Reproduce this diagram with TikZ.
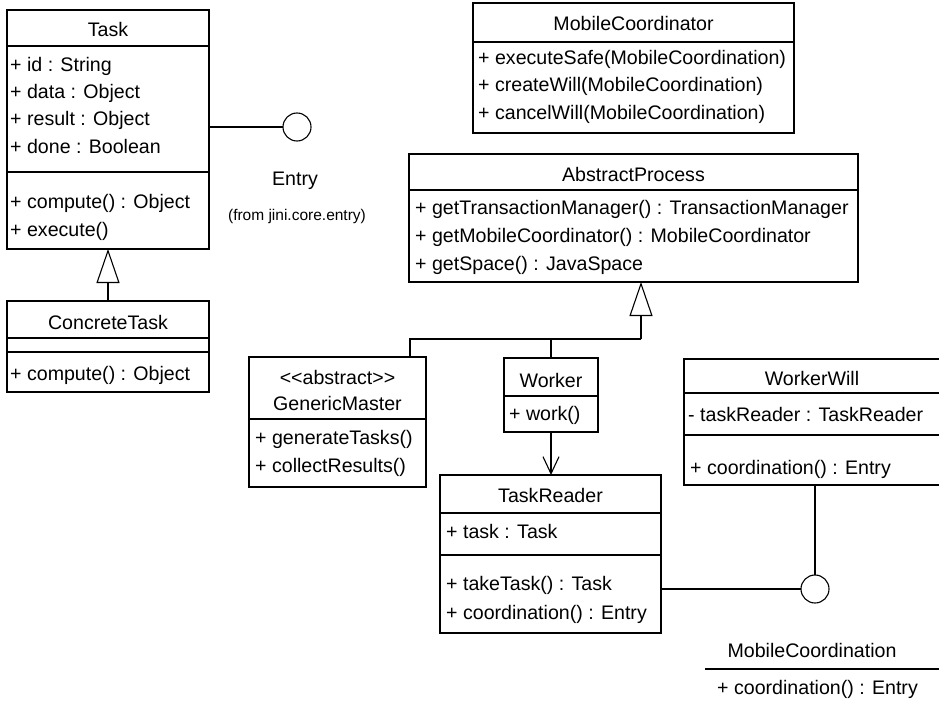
\documentclass[tikz,border=0pt]{standalone}
\usepackage{fontspec}
\setmainfont{Liberation Sans}
\usetikzlibrary{arrows.meta}
\begin{document}
\begin{tikzpicture}[x=1pt,y=-1pt,
  box/.style={draw, line width=1.1pt, inner sep=0pt, outer sep=0pt, rectangle},
  lbl/.style={anchor=base west, inner sep=0pt, font=\fontsize{19.6}{24}\selectfont},
  ttl/.style={anchor=base, inner sep=0pt, font=\fontsize{19.6}{24}\selectfont},
  small/.style={anchor=base, inner sep=0pt, font=\fontsize{15.5}{18}\selectfont},
  sepline/.style={line width=1.1pt},
  conn/.style={line width=1.1pt},
  gen/.style={conn, -{Triangle[open, length=34pt, width=23pt]}},
  nav/.style={conn, -{Straight Barb[length=17pt, width=16pt]}},
  iface/.style={draw, circle, line width=1.1pt, minimum size=28pt, inner sep=0pt, outer sep=0pt}
]
\clip (0,0) rectangle (939,703);
\fill[white] (0,0) rectangle (939,703);

% ---- Task ----
\node[box, minimum width=202pt, minimum height=239pt] (task) at (108,129.5) {};
\draw[sepline] (task.west |- 0,46) -- (task.east |- 0,46);
\draw[sepline] (task.west |- 0,172) -- (task.east |- 0,172);
\node[ttl] (tasktitle) at (108,37) {Task};
\node[lbl] (taskid) at (10,72) {+ id : String};
\node[lbl] (taskdata) at (10,99) {+ data : Object};
\node[lbl] (taskresult) at (10,126) {+ result : Object};
\node[lbl] (taskdone) at (10,154) {+ done : Boolean};
\node[lbl] (taskcompute) at (10,209) {+ compute() : Object};
\node[lbl] (taskexecute) at (10,237) {+ execute()};

% ---- ConcreteTask ----
\node[box, minimum width=202pt, minimum height=91pt] (ctask) at (108,346.5) {};
\draw[sepline] (ctask.west |- 0,338) -- (ctask.east |- 0,338);
\draw[sepline] (ctask.west |- 0,352) -- (ctask.east |- 0,352);
\node[ttl] (ctasktitle) at (108,329) {ConcreteTask};
\node[lbl] (ctaskcompute) at (10,380) {+ compute() : Object};

% ---- Entry interface ----
\node[iface] (entry) at (297,127) {};
\node[ttl] (entrytitle) at (295,186) {Entry};
\node[small] (entryfrom) at (297,221) {(from jini.core.entry)};

% ---- MobileCoordinator ----
\node[box, minimum width=321pt, minimum height=130pt] (mcoord) at (633.5,68) {};
\draw[sepline] (mcoord.west |- 0,42) -- (mcoord.east |- 0,42);
\node[ttl] (mcoordtitle) at (633.5,31) {MobileCoordinator};
\node[lbl] (mcoordm1) at (478,65) {+ executeSafe(MobileCoordination)};
\node[lbl] (mcoordm2) at (478,92) {+ createWill(MobileCoordination)};
\node[lbl] (mcoordm3) at (478,120) {+ cancelWill(MobileCoordination)};

% ---- AbstractProcess ----
\node[box, minimum width=449pt, minimum height=128pt] (aproc) at (633.5,218) {};
\draw[sepline] (aproc.west |- 0,190) -- (aproc.east |- 0,190);
\node[ttl] (aproctitle) at (633.5,182) {AbstractProcess};
\node[lbl] (aprocm1) at (415,215) {+ getTransactionManager() : TransactionManager};
\node[lbl] (aprocm2) at (415,243) {+ getMobileCoordinator() : MobileCoordinator};
\node[lbl] (aprocm3) at (415,270) {+ getSpace() : JavaSpace};

% ---- GenericMaster ----
\node[box, minimum width=177pt, minimum height=130pt] (gmaster) at (337.5,422) {};
\draw[sepline] (gmaster.west |- 0,419) -- (gmaster.east |- 0,419);
\node[ttl] (gmasterst) at (337.5,384) {\mbox{<}\mbox{<}abstract\mbox{>}\mbox{>}};
\node[ttl] (gmastertitle) at (337.5,410) {GenericMaster};
\node[lbl] (gmasterm1) at (255,444) {+ generateTasks()};
\node[lbl] (gmasterm2) at (255,472) {+ collectResults()};

% ---- Worker ----
\node[box, minimum width=94pt, minimum height=74pt] (worker) at (551,395) {};
\draw[sepline] (worker.west |- 0,396) -- (worker.east |- 0,396);
\node[ttl] (workertitle) at (551,387) {Worker};
\node[lbl] (workerm1) at (509,420) {+ work()};

% ---- TaskReader ----
\node[box, minimum width=221pt, minimum height=158pt] (treader) at (550.5,554) {};
\draw[sepline] (treader.west |- 0,513) -- (treader.east |- 0,513);
\draw[sepline] (treader.west |- 0,555) -- (treader.east |- 0,555);
\node[ttl] (treadertitle) at (550.5,502) {TaskReader};
\node[lbl] (treadera1) at (446,538) {+ task : Task};
\node[lbl] (treaderm1) at (446,590) {+ takeTask() : Task};
\node[lbl] (treaderm2) at (446,619) {+ coordination() : Entry};

% ---- WorkerWill ----
\node[box, minimum width=257pt, minimum height=126pt] (wwill) at (812.5,422) {};
\draw[sepline] (wwill.west |- 0,393) -- (wwill.east |- 0,393);
\draw[sepline] (wwill.west |- 0,435) -- (wwill.east |- 0,435);
\node[ttl] (wwilltitle) at (812,385) {WorkerWill};
\node[lbl] (wwilla1) at (688,421) {- taskReader : TaskReader};
\node[lbl] (wwillm1) at (690,474) {+ coordination() : Entry};

% ---- MobileCoordination interface ----
\node[iface] (mcoordn) at (815,589) {};
\node[ttl] (mcoordntitle) at (812,657) {MobileCoordination};
\draw[sepline] (705,669) -- (945,669);
\node[lbl] (mcoordnm1) at (717,694) {+ coordination() : Entry};

% ---- connectors ----
\draw[conn] (entry.west) -- (entry.west -| task.east);
\draw[gen] (ctask.north) -- (task.south);
\coordinate (apjoin) at (641,339);
\draw[gen] (apjoin) -- (apjoin |- aproc.south);
\draw[conn] (apjoin) -| ([xshift=-16pt]gmaster.north east);
\draw[conn] (worker.north) -- (worker.north |- apjoin);
\draw[nav] (worker.south) -- (worker.south |- treader.north);
\draw[conn] (mcoordn.west) -- (mcoordn.west -| treader.east);
\draw[conn] (mcoordn.north) -- (mcoordn.north |- wwill.south);
\end{tikzpicture}
\end{document}
